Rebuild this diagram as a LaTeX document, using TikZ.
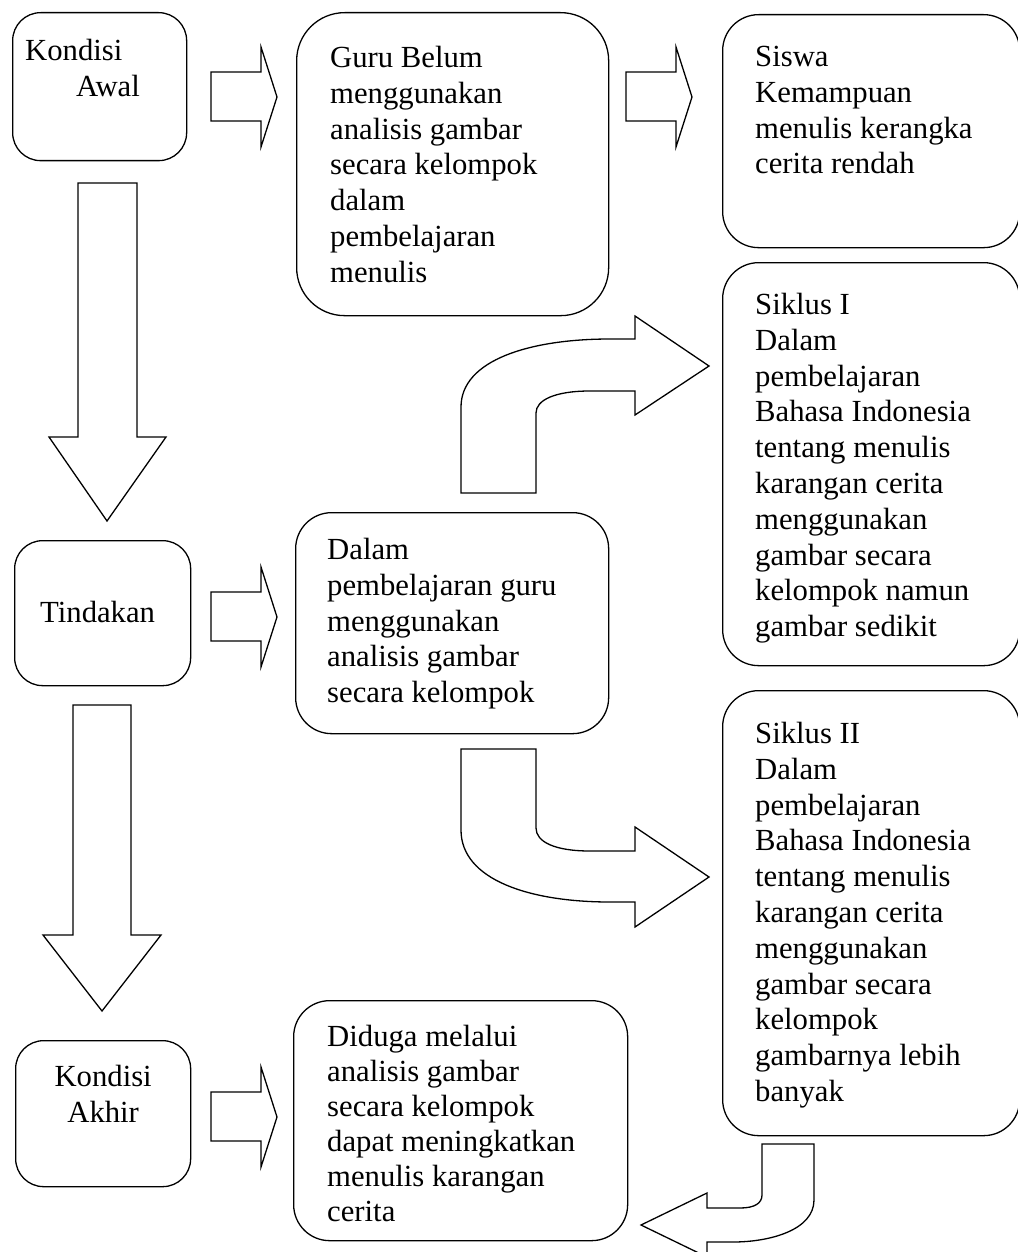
\documentclass[tikz,border=0pt]{standalone}
\usepackage{fontspec}
\setmainfont{Liberation Serif}

\tikzset{
  kotak/.style={draw, rounded corners=#1, line width=1.3pt, inner sep=0pt, anchor=north west},
  kotak/.default=36pt,
  isi/.style={anchor=north west, inner sep=0pt, align=left},
  panah/.style={draw, line width=1.3pt, line join=miter}
}

\begin{document}
\begin{tikzpicture}[x=1pt, y=-1pt, font=\fontsize{30.7}{35.8}\selectfont]
  \useasboundingbox (0,0) rectangle (1017,1252);

  % kotak
  \node[kotak=28pt, minimum width=174pt, minimum height=148pt] (awal) at (12,12) {};
  \node[kotak=48pt, minimum width=312pt, minimum height=303pt] (guru) at (296,12) {};
  \node[kotak, minimum width=297pt, minimum height=233pt] (siswa) at (722,14) {};
  \node[kotak, minimum width=297pt, minimum height=403pt] (siklus1) at (722,262) {};
  \node[kotak=28pt, minimum width=176pt, minimum height=145pt] (tindakan) at (14,540) {};
  \node[kotak, minimum width=313pt, minimum height=221pt] (dalam) at (295,512) {};
  \node[kotak, minimum width=297pt, minimum height=445pt] (siklus2) at (722,690) {};
  \node[kotak=28pt, minimum width=175pt, minimum height=146pt] (akhir) at (15,1040) {};
  \node[kotak, minimum width=334pt, minimum height=240pt] (diduga) at (293,1000) {};

  % isi kotak
  \node[isi] (awalT) at ([shift={(13,27)}]awal.north west)
    {Kondisi\\\hspace*{51pt}Awal};
  \node[isi] (guruT) at ([shift={(34,34)}]guru.north west)
    {Guru Belum\\menggunakan\\analisis gambar\\secara kelompok\\dalam\\pembelajaran\\menulis};
  \node[isi] (siswaT) at ([shift={(33,32)}]siswa.north west)
    {Siswa\\Kemampuan\\menulis kerangka\\cerita rendah};
  \node[isi] (siklus1T) at ([shift={(33,31)}]siklus1.north west)
    {Siklus I\\Dalam\\pembelajaran\\Bahasa Indonesia\\tentang menulis\\karangan cerita\\menggunakan\\gambar secara\\kelompok namun\\gambar sedikit};
  \node[isi] (tindakanT) at ([shift={(26,61)}]tindakan.north west) {Tindakan};
  \node[isi] (dalamT) at ([shift={(32,26)}]dalam.north west)
    {Dalam\\pembelajaran guru\\menggunakan\\analisis gambar\\secara kelompok};
  \node[isi] (siklus2T) at ([shift={(33,32)}]siklus2.north west)
    {Siklus II\\Dalam\\pembelajaran\\Bahasa Indonesia\\tentang menulis\\karangan cerita\\menggunakan\\gambar secara\\kelompok\\gambarnya lebih\\banyak};
  \node[isi, anchor=north, align=center] (akhirT) at ([yshift=-25pt]akhir.north)
    {Kondisi\\Akhir};
  \node[isi, font=\fontsize{30.7}{35}\selectfont] (didugaT) at ([shift={(34,25)}]diduga.north west)
    {Diduga melalui\\analisis gambar\\secara kelompok\\dapat meningkatkan\\menulis karangan\\cerita};

  % panah ke bawah
  \draw[panah] (78,183) -- (137,183) -- (137,437) -- (166,437) -- (107,521)
    -- (49,437) -- (78,437) -- cycle;
  \draw[panah] (73,705) -- (131,705) -- (131,935) -- (161,935) -- (102,1011)
    -- (43,935) -- (73,935) -- cycle;

  % panah ke kanan
  \foreach \x/\y in {211/97, 626/97, 211/617, 211/1117}
    \draw[panah] (\x,\y-25) -- (\x+50,\y-25) -- (\x+50,\y-50) -- (\x+66,\y)
      -- (\x+50,\y+50) -- (\x+50,\y+24) -- (\x,\y+24) -- cycle;

  % panah lengkung ke siklus I
  \draw[panah] (461,493) -- (461,407) .. controls (461,360) and (530,339) .. (610,339)
    -- (635,339) -- (635,316) -- (709,366) -- (635,415) -- (635,391) -- (590,391)
    .. controls (555,391) and (536,400) .. (536,413) -- (536,493) -- cycle;
  % panah lengkung ke siklus II
  \draw[panah] (461,749) -- (461,830) .. controls (461,880) and (530,902) .. (610,902)
    -- (635,902) -- (635,927) -- (709,877) -- (635,827) -- (635,851) -- (590,851)
    .. controls (555,851) and (536,842) .. (536,828) -- (536,749) -- cycle;
  % panah lengkung ke kiri
  \draw[panah] (762,1144) -- (814,1144) -- (814,1200) .. controls (814,1230) and (770,1242) .. (733,1242)
    -- (707,1242) -- (707,1257) -- (641,1225) -- (707,1193) -- (707,1208) -- (740,1208)
    .. controls (755,1208) and (762,1203) .. (762,1195) -- cycle;
\end{tikzpicture}
\end{document}
